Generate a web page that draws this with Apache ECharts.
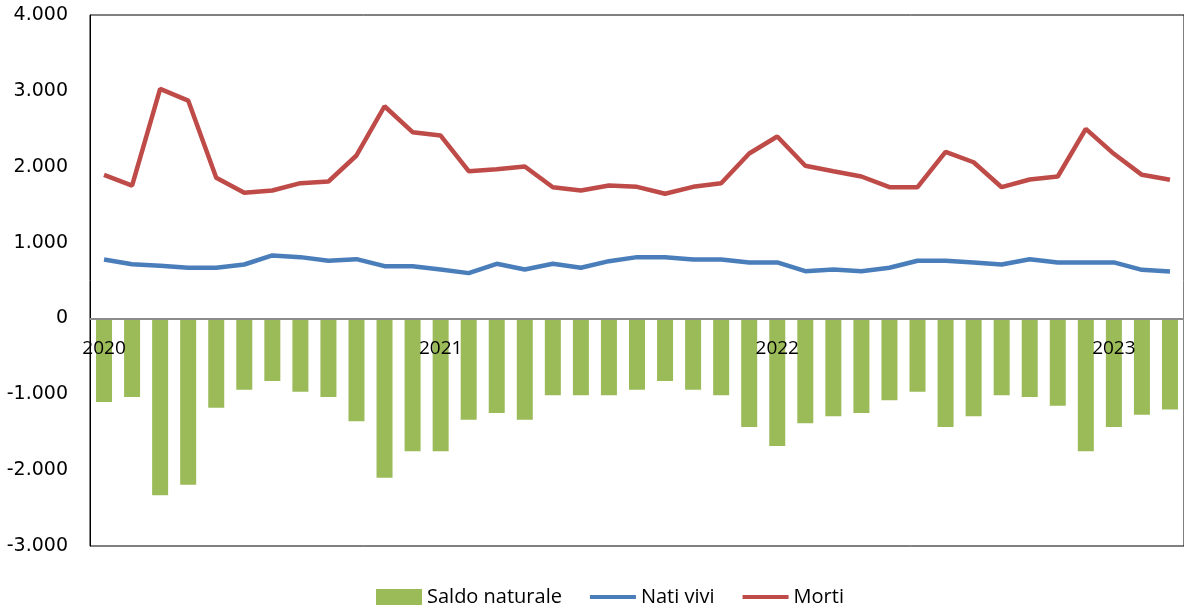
<!DOCTYPE html>
<html>
<head>
<meta charset="utf-8">
<title>Saldo naturale</title>
<style>
    html, body { margin: 0; padding: 0; background: #fff; }
    #main { width: 1184px; height: 608px; }
</style>
</head>
<body>
<div id="main"></div>
<script src="https://cdn.jsdelivr.net/npm/echarts@6/dist/echarts.min.js"></script>
<script type="text/javascript">
    // mesi gen 2020 - mar 2023
    var mesi = [
        '2020-01', '2020-02', '2020-03', '2020-04', '2020-05', '2020-06', '2020-07', '2020-08', '2020-09', '2020-10', '2020-11', '2020-12',
        '2021-01', '2021-02', '2021-03', '2021-04', '2021-05', '2021-06', '2021-07', '2021-08', '2021-09', '2021-10', '2021-11', '2021-12',
        '2022-01', '2022-02', '2022-03', '2022-04', '2022-05', '2022-06', '2022-07', '2022-08', '2022-09', '2022-10', '2022-11', '2022-12',
        '2023-01', '2023-02', '2023-03'
    ];
    var natiVivi = [
        777, 715, 694, 668, 668, 711, 830, 808, 760, 781, 689, 689,
        646, 597, 720, 646, 720, 668, 755, 808, 808, 777, 777, 738,
        738, 623, 646, 623, 668, 760, 760, 738, 711, 781, 738, 738,
        738, 641, 619
    ];
    var morti = [
        1893, 1752, 3026, 2872, 1854, 1656, 1686, 1783, 1805, 2148, 2797, 2455,
        2411, 1941, 1967, 2003, 1730, 1686, 1752, 1735, 1643, 1735, 1783, 2174,
        2398, 2012, 1941, 1871, 1730, 1730, 2196, 2059, 1730, 1831, 1871, 2499,
        2170, 1893, 1827
    ];
    var saldo = [
        -1103, -1037, -2332, -2191, -1177, -940, -826, -966, -1037, -1357, -2099, -1752,
        -1752, -1335, -1247, -1335, -1014, -1014, -1014, -940, -826, -940, -1014, -1432,
        -1682, -1383, -1291, -1247, -1080, -966, -1432, -1291, -1014, -1037, -1150, -1752,
        -1432, -1269, -1199
    ];

    // separatore migliaia col punto
    function fmt(v) {
        var s = String(Math.abs(v));
        if (s.length > 3) s = s.slice(0, s.length - 3) + '.' + s.slice(s.length - 3);
        return (v < 0 ? '-' : '') + s;
    }

    var gTop = 15, gBottom = 62, H = 608;
    var yMin = -3000, yMax = 4000;
    // asse x (e etichette) sullo zero, non sul fondo
    var zeroShift = (H - gTop - gBottom) * (0 - yMin) / (yMax - yMin);

    // icona legenda per le linee: barretta sottile in un box 46x16
    var lineIcon = 'path://M0,0 M0,6 L46,6 L46,10 L0,10 Z M46,16';

    var myChart = echarts.init(document.getElementById('main'));
    myChart.setOption({
        animation: false,
        grid: {
            left: 90, right: 0, top: gTop, bottom: gBottom,
            show: true, borderColor: '#000', borderWidth: 1
        },
        legend: {
            left: 371, top: 582,
            itemWidth: 46, itemHeight: 16, itemGap: 28,
            textStyle: { fontFamily: 'Open Sans', fontSize: 20, color: '#000' },
            data: [
                { name: 'Saldo naturale', icon: 'rect' },
                { name: 'Nati vivi', icon: lineIcon },
                { name: 'Morti', icon: lineIcon }
            ]
        },
        xAxis: {
            type: 'category',
            data: mesi,
            z: 10,
            offset: -zeroShift,
            axisLine: { onZero: false, lineStyle: { color: '#8C8C8C', width: 2 } },
            axisTick: { show: false },
            axisLabel: {
                interval: 11,
                margin: 21,
                fontFamily: 'Open Sans', fontSize: 19, color: '#000',
                formatter: function (v) { return v.slice(0, 4); }
            }
        },
        yAxis: {
            type: 'value',
            min: yMin, max: yMax, interval: 1000,
            splitLine: { show: false },
            axisLine: { show: true, lineStyle: { color: '#000' } },
            axisTick: { show: false },
            axisLabel: {
                margin: 22,
                fontFamily: 'DejaVu Sans', fontSize: 19, color: '#000',
                formatter: fmt
            }
        },
        series: [
            {
                name: 'Saldo naturale', type: 'bar', data: saldo,
                barWidth: 16,
                itemStyle: { color: '#9BBB59' }
            },
            {
                name: 'Nati vivi', type: 'line', data: natiVivi,
                symbol: 'none',
                lineStyle: { color: '#4A7EBB', width: 4.5 },
                itemStyle: { color: '#4A7EBB' }
            },
            {
                name: 'Morti', type: 'line', data: morti,
                symbol: 'none',
                lineStyle: { color: '#BE4B48', width: 4.5 },
                itemStyle: { color: '#BE4B48' }
            }
        ]
    });
</script>
</body>
</html>
